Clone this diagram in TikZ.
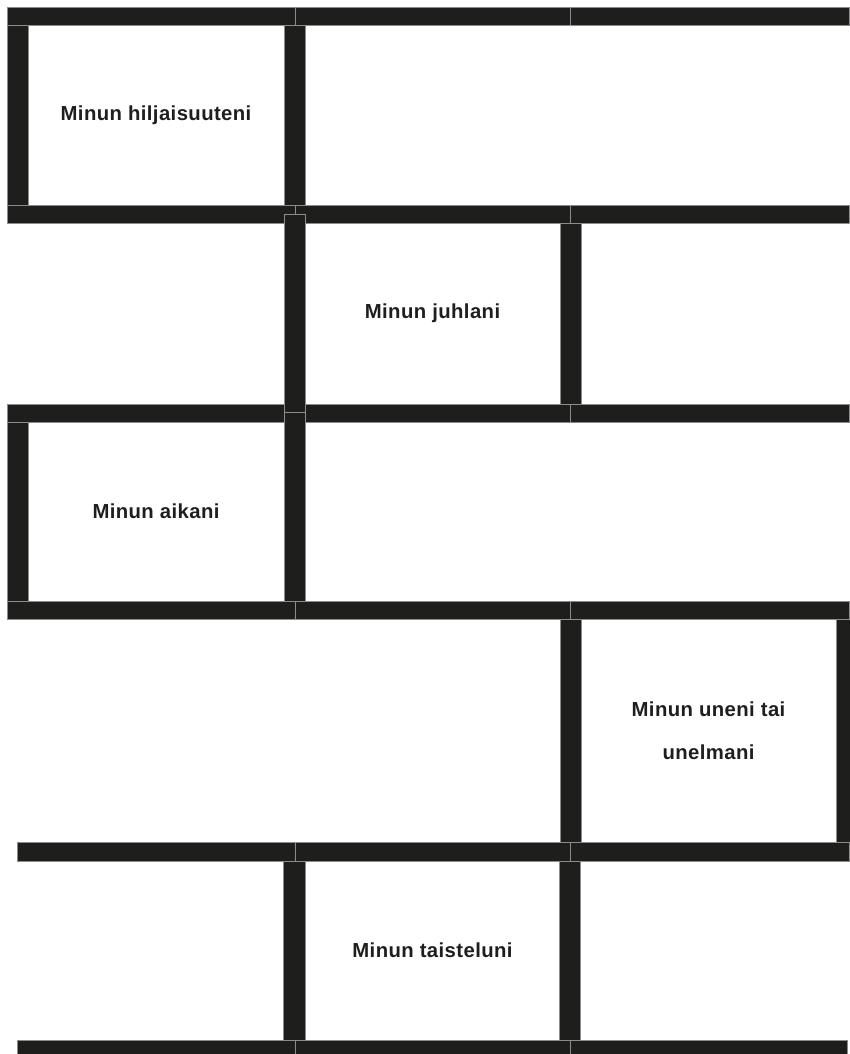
\documentclass[tikz,border=0pt]{standalone}
\usepackage{fontspec}
\setmainfont{Liberation Sans}[LetterSpace=2]
\usetikzlibrary{positioning}
\definecolor{brick}{HTML}{1E1E1C}
\begin{document}
\begin{tikzpicture}[x=1pt, y=-1pt,
    bar/.style={fill=brick, draw=black!45, line width=0.4pt},
    cell/.style={align=center, text=brick, font=\bfseries\fontsize{20.3}{43}\selectfont}
]
\useasboundingbox (0,0) rectangle (849,1054);
% horizontal courses
\foreach \y in {7,205,404,601} {
  \foreach \a/\b in {7/295,295/570,570/849}
    \draw[bar] (\a,\y) rectangle (\b,\y+18.5);
}
\foreach \y/\e in {842/849,1040/847} {
  \foreach \a/\b in {17/295,295/570,570/\e}
    \draw[bar] (\a,\y) rectangle (\b,\y+19);
}
% vertical joints
\foreach \x/\ya/\yb in {7/25.5/205, 284/25.5/205, 284/214/412, 560/223.5/404,
    7/422.5/601, 284/412/601, 560/619.5/842, 283.5/861/1040, 559/861/1040}
  \draw[bar] (\x,\ya) rectangle (\x+21.5,\yb);
\draw[bar] (836,619.5) rectangle (850,842);

\node[cell] (silence) at (156,115) {Minun hiljaisuuteni};
\node[cell] (party) at (432.5,313.5) {Minun juhlani};
\node[cell] (time) at (156,511.5) {Minun aikani};
\node[cell] (dream) at (708.5,731) {Minun uneni tai\\unelmani};
\node[cell] (fight) at (432.5,950.5) {Minun taisteluni};
\end{tikzpicture}
\end{document}
